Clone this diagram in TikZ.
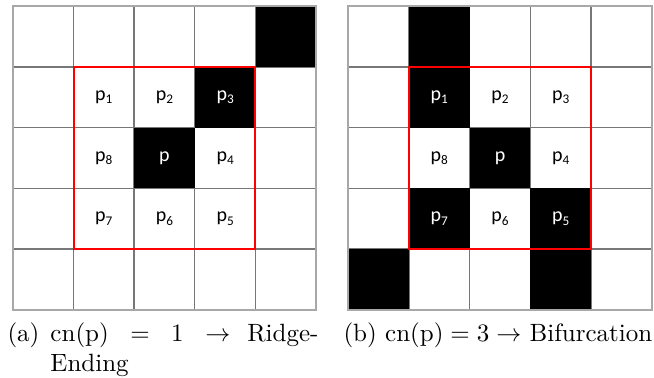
\documentclass[tikz,border=0pt]{standalone}
\usepackage{fontspec}
\newfontfamily\labfont{Carlito}
\definecolor{gridgray}{HTML}{777777}
\definecolor{bordergray}{HTML}{A8A8A8}
\tikzset{
  blackcell/.style={fill=black},
  gridline/.style={draw=gridgray, line width=0.5pt},
  borderline/.style={draw=bordergray, line width=0.75pt},
  redbox/.style={draw=red, line width=0.75pt},
  lab/.style={font=\labfont\fontsize{8}{9}\selectfont, inner sep=0pt},
  wlab/.style={lab, text=white},
  captext/.style={inner sep=0pt, font=\fontsize{10}{12}\selectfont}
}
\newcommand{\psub}[1]{\raisebox{-1.3pt}{\fontsize{5.3}{6}\selectfont #1}}
\begin{document}
\begin{tikzpicture}[x=0.4pt,y=-0.4pt]
\useasboundingbox (0,0) rectangle (654,378);
% ---------- left grid ----------
\foreach \i in {1,...,4} {
  \draw[gridline] (12.7+\i*60.7,6.3) -- ++(0,303.5);
  \draw[gridline] (12.7,6.3+\i*60.7) -- ++(303.5,0);
}
\foreach \c/\r in {4/0,3/1,2/2}
  \fill[blackcell] (12.7+\c*60.7,6.3+\r*60.7) rectangle ++(60.7,60.7);
\draw[borderline] (12.7,6.3) rectangle ++(303.5,303.5);
\draw[redbox] (73.6,67.0) -- (255.3,67.0) -- (255.3,249.1) -- (73.6,249.1) -- cycle;
\node[lab]  (la1) at (12.7+1.5*60.7,6.3+1.5*60.7) {p\psub{1}};
\node[lab]  (la2) at (12.7+2.5*60.7,6.3+1.5*60.7) {p\psub{2}};
\node[wlab] (la3) at (12.7+3.5*60.7,6.3+1.5*60.7) {p\psub{3}};
\node[lab]  (la8) at (12.7+1.5*60.7,6.3+2.5*60.7) {p\psub{8}};
\node[wlab] (lap) at (12.7+2.5*60.7,6.3+2.5*60.7) {p};
\node[lab]  (la4) at (12.7+3.5*60.7,6.3+2.5*60.7) {p\psub{4}};
\node[lab]  (la7) at (12.7+1.5*60.7,6.3+3.5*60.7) {p\psub{7}};
\node[lab]  (la6) at (12.7+2.5*60.7,6.3+3.5*60.7) {p\psub{6}};
\node[lab]  (la5) at (12.7+3.5*60.7,6.3+3.5*60.7) {p\psub{5}};
% ---------- right grid ----------
\foreach \i in {1,...,4} {
  \draw[gridline] (348.3+\i*60.7,6.3) -- ++(0,303.5);
  \draw[gridline] (348.3,6.3+\i*60.7) -- ++(303.5,0);
}
\foreach \c/\r in {1/0,1/1,2/2,1/3,3/3,0/4,3/4}
  \fill[blackcell] (348.3+\c*60.7,6.3+\r*60.7) rectangle ++(60.7,60.7);
\draw[borderline] (348.3,6.3) rectangle ++(303.5,303.5);
\draw[redbox] (409.0,67.0) -- (591.1,67.0) -- (591.1,249.1) -- (409.0,249.1) -- cycle;
\node[wlab] (rb1) at (348.3+1.5*60.7,6.3+1.5*60.7) {p\psub{1}};
\node[lab]  (rb2) at (348.3+2.5*60.7,6.3+1.5*60.7) {p\psub{2}};
\node[lab]  (rb3) at (348.3+3.5*60.7,6.3+1.5*60.7) {p\psub{3}};
\node[lab]  (rb8) at (348.3+1.5*60.7,6.3+2.5*60.7) {p\psub{8}};
\node[wlab] (rbp) at (348.3+2.5*60.7,6.3+2.5*60.7) {p};
\node[lab]  (rb4) at (348.3+3.5*60.7,6.3+2.5*60.7) {p\psub{4}};
\node[wlab] (rb7) at (348.3+1.5*60.7,6.3+3.5*60.7) {p\psub{7}};
\node[lab]  (rb6) at (348.3+2.5*60.7,6.3+3.5*60.7) {p\psub{6}};
\node[wlab] (rb5) at (348.3+3.5*60.7,6.3+3.5*60.7) {p\psub{5}};
% ---------- captions ----------
\node[captext, anchor=base west] (capalab) at (7,342) {(a)};
\node[captext, anchor=base west] (capa) at (50,342)
  {\parbox[t]{107.2pt}{\tolerance=10000 $\mathrm{cn(p)} = 1 \rightarrow$ Ridge-Ending}};
\node[captext, anchor=base west] (capb) at (343,342)
  {(b) $\mathrm{cn(p)} = 3 \rightarrow$ Bifurcation};
\end{tikzpicture}
\end{document}
